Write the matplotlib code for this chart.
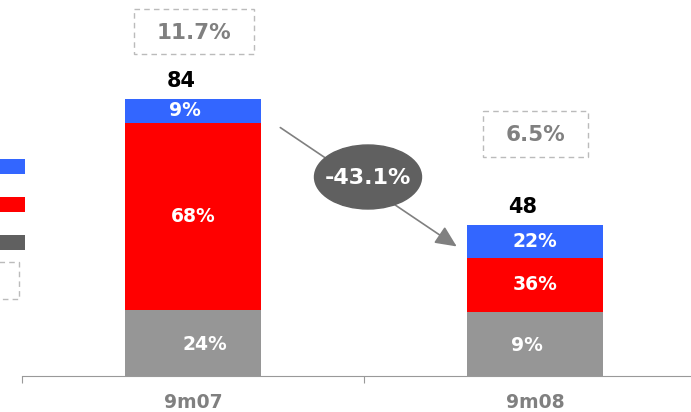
import matplotlib.pyplot as plt
from matplotlib.patches import Ellipse, Rectangle

categories = ['9m07', '9m08']
totals = [84, 48]
gray_vals = [20.0, 19.4]
red_vals = [56.7, 16.4]
blue_vals = [7.3, 10.0]
gray_labels = ['24%', '9%']
red_labels = ['68%', '36%']
blue_labels = ['9%', '22%']
margin_labels = ['11.7%', '6.5%']
change_label = '-43.1%'

BLUE = '#3366FF'
RED = '#FF0000'
GRAY = '#969696'
DARK = '#606060'
TXT_GRAY = '#808080'

W, H = 691, 412
fig = plt.figure(figsize=(W / 100, H / 100), dpi=100)
# axes runs past the right edge like the original slide
ax = fig.add_axes([22 / W, 36 / H, 684 / W, 376 / H])
ax.set_xlim(-0.5, 1.5)
ax.set_ylim(0, 376 / 3.3)

x = range(len(categories))
bw = 0.4
ax.bar(x, gray_vals, bw, color=GRAY)
ax.bar(x, red_vals, bw, bottom=gray_vals, color=RED)
bottoms = [g + r for g, r in zip(gray_vals, red_vals)]
ax.bar(x, blue_vals, bw, bottom=bottoms, color=BLUE)

lab = dict(color='white', fontsize=13.5, fontweight='bold', ha='center', va='center')
gx = [0.035, -0.025]
bx = [-0.025, 0.0]
for i in x:
    ax.text(i + gx[i], gray_vals[i] / 2 - 0.6, gray_labels[i], **lab)
    ax.text(i, gray_vals[i] + red_vals[i] / 2, red_labels[i], **lab)
    ax.text(i + bx[i], bottoms[i] + blue_vals[i] / 2, blue_labels[i], **lab)
    top = bottoms[i] + blue_vals[i]
    ax.text(i - 0.035, top + 2.3, str(totals[i]), color='black', fontsize=15,
            fontweight='bold', ha='center', va='bottom')

ax.set_xticks([-0.5, 0.5, 1.5])
ax.set_xticklabels([])
ax.tick_params(axis='x', length=5, color='#999999', direction='out')
ax.set_yticks([])
for s in ['top', 'right', 'left']:
    ax.spines[s].set_visible(False)
ax.spines['bottom'].set_color('#999999')
for i, c in enumerate(categories):
    ax.text(i, -27 / 3.3, c, color=TXT_GRAY, fontsize=13.5, fontweight='bold',
            ha='center', va='center')

# overlay in pixel coords
ov = fig.add_axes([0, 0, 1, 1], facecolor='none')
ov.set_xlim(0, W)
ov.set_ylim(H, 0)
ov.axis('off')

# margin boxes
for (x0, y0, x1, y1), t in zip([(134, 9, 254, 54), (483, 111, 588, 157)], margin_labels):
    ov.add_patch(Rectangle((x0, y0), x1 - x0, y1 - y0, fill=False,
                           edgecolor='#BBBBBB', linestyle=(0, (4, 3)), lw=1))
    ov.text((x0 + x1) / 2, (y0 + y1) / 2 + 1, t, color=TXT_GRAY, fontsize=15.5,
            fontweight='bold', ha='center', va='center')

# legend remnants (text cut off at the left edge)
for y0, c in zip([159, 197, 235], [BLUE, RED, DARK]):
    ov.add_patch(Rectangle((-5, y0), 30, 15, color=c, lw=0))
ov.add_patch(Rectangle((-20, 262), 39, 37, fill=False, edgecolor='#BBBBBB',
                       linestyle=(0, (4, 3)), lw=1))

# change arrow
ov.annotate('', xy=(459, 248), xytext=(278, 126),
            arrowprops=dict(arrowstyle='-|>,head_length=1.3,head_width=0.6',
                            color=TXT_GRAY, lw=1.2))
ov.add_patch(Ellipse((368, 177), 107, 64, color=DARK, zorder=3))
ov.text(368, 178, change_label, color='white', fontsize=16, fontweight='bold',
        ha='center', va='center', zorder=4)

fig.savefig('out.png', dpi=100)
